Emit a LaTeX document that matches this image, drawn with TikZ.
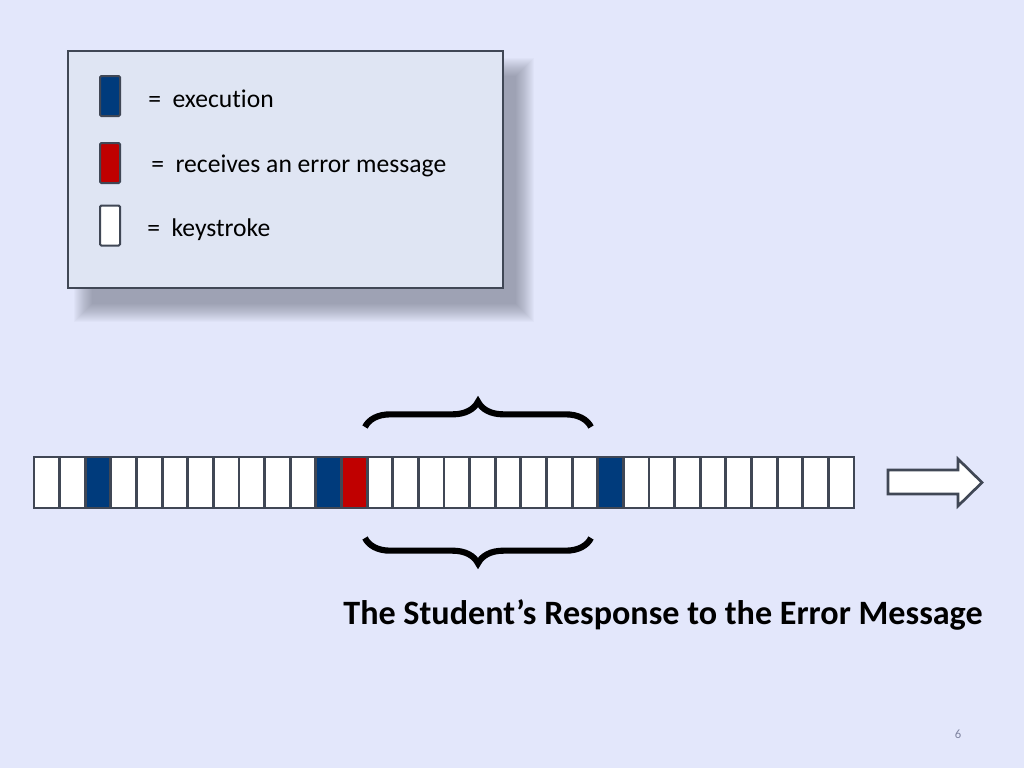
\documentclass[tikz,border=0pt]{standalone}
\usepackage{fontspec}
\setmainfont[Ligatures=NoCommon]{Carlito}
\usetikzlibrary{decorations.pathreplacing}
\definecolor{bgc}{HTML}{E3E7FB}
\definecolor{legfill}{HTML}{DFE5F3}
\definecolor{bord}{HTML}{404755}
\definecolor{execblue}{HTML}{003B7C}
\definecolor{errred}{HTML}{C00000}
\definecolor{shadowc}{HTML}{5A5E70}
\definecolor{pagenum}{HTML}{7F84A0}
\tikzset{
  cellbox/.style={draw=bord, line width=2.2pt, fill=white, minimum width=19.2pt, minimum height=38.25pt, inner sep=0pt, outer sep=0pt},
  swatch/.style={draw=bord, line width=1.5pt, rounded corners=1pt, minimum width=15pt, minimum height=30pt, inner sep=0pt},
  legtext/.style={anchor=base west, inner sep=0pt, font=\fontsize{19.2}{23}\selectfont},
  bracestyle/.style={line width=4.6pt, decorate, decoration={brace, amplitude=19pt}},
}
\begin{document}
\begin{tikzpicture}[x=0.75pt,y=-0.75pt]
\useasboundingbox[fill=bgc] (0,0) rectangle (1024,768);
% legend shadow
\foreach \k in {0,...,18} {
  \fill[shadowc, opacity=0.032] (74+\k,58+\k) rectangle (534-\k,322-\k);
}
\node[draw=bord, line width=1.6pt, fill=legfill, minimum width=326.25pt, minimum height=177.75pt, inner sep=0pt] (legend) at (285.5,169.5) {};
\node[swatch, fill=execblue] (swexec) at (110,96) {};
\node[swatch, fill=errred] (swerr) at (110,163) {};
\node[swatch, fill=white] (swkey) at (110,225.5) {};
\node[legtext] (texec) at (148,107) {=~~execution};
\node[legtext] (terr) at (151,172) {=~~receives an error message};
\node[legtext] (tkey) at (147,236) {=~~keystroke};
% strip of cells
\foreach \i in {0,...,31} {
  \node[cellbox] (c\i) at ({34+25.625*\i+12.8125},482.5) {};
}
\foreach \i in {2,11,22} { \node[cellbox, fill=execblue] at (c\i) {}; }
\node[cellbox, fill=errred] at (c12) {};
\draw[bord, line width=2.2pt] (c0.north west) rectangle (c31.south east);
% braces
\coordinate (bt1) at (365,427);
\coordinate (bt2) at (591,427);
\coordinate (bb1) at (365,538);
\coordinate (bb2) at (591,538);
\draw[bracestyle] (bt1) -- (bt2);
\draw[bracestyle] (bb2) -- (bb1);
% arrow
\draw[bord, line width=2pt, fill=white, line join=miter]
  (888,470) -- (958,470) -- (958,459) -- (982,482.5) -- (958,506) -- (958,494) -- (888,494) -- cycle;
% title
\node[anchor=base, inner sep=0pt, font=\fontsize{25.6}{30}\selectfont\bfseries] (title) at (663,624) {The Student’s Response to the Error Message};
\node[anchor=base, inner sep=0pt, text=pagenum, font=\fontsize{9.5}{11}\selectfont] (page) at (958,738) {6};
\end{tikzpicture}
\end{document}
